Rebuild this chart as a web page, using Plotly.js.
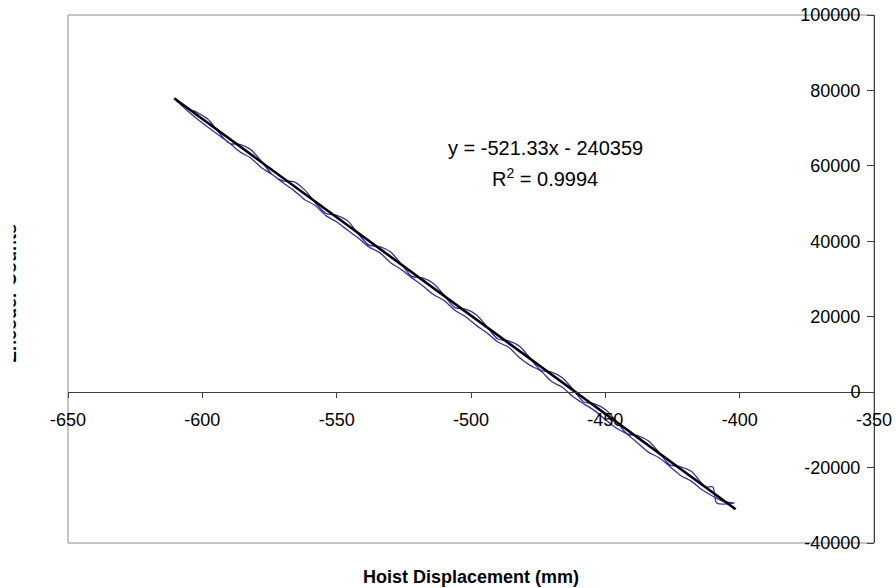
<!DOCTYPE html>
<html>
<head>
<meta charset="utf-8">
<script src="https://cdn.plot.ly/plotly-3.0.1.min.js"></script>
<style>html,body{margin:0;padding:0;background:#fff;}#chart{width:896px;height:588px;}</style>
</head>
<body>
<div id="chart"></div>
<script>
// Measured data: forward pass then return pass (mm, encoder counts)
const dispForward = [-610,-606,-602,-598,-594,-590,-586,-582,-578,-574,-570,-566,-562,-558,-554,-550,-546,-542,-538,-534,-530,-526,-522,-518,-514,-510,-506,-502,-498,-494,-490,-486,-482,-478,-474,-470,-466,-462,-458,-454,-450,-446,-442,-438,-434,-430,-426,-422,-418,-414,-412.5,-410,-408.5,-402];
const countsForward = [77900,75400,74200,72400,69000,66000,65700,64300,61200,57700,56000,55800,53700,50300,47400,46900,45500,42000,39000,38600,37200,34000,30700,30300,28800,25700,22400,22000,20500,17300,14100,13600,12200,9000,5800,5300,3800,700,-2600,-3100,-4600,-7600,-11000,-11500,-12900,-16000,-19300,-19800,-21000,-24300,-25150,-25150,-29400,-29400];
const dispReturn = [-406,-410,-414,-418,-422,-426,-430,-434,-438,-442,-446,-450,-454,-458,-462,-466,-470,-474,-478,-482,-486,-490,-494,-498,-502,-506,-510,-514,-518,-522,-526,-530,-534,-538,-542,-546,-550,-554,-558,-562,-566,-570,-574,-578,-582,-586,-590,-594,-598,-602,-606,-610];
const countsReturn = [-29000,-27600,-25900,-23600,-22100,-19700,-17400,-15900,-13500,-11100,-9500,-7300,-4900,-3100,-1200,1300,2800,5600,7100,9200,11900,13300,15700,17700,20000,21700,24300,25900,28200,30300,32500,34400,37000,38500,40900,43000,45100,46800,49500,51100,53500,55500,57700,59500,62100,63700,66100,68200,70300,72500,74900,77500];
// Linear trendline endpoints (y = -521.33x - 240359)
const trendDisp = [-610.5, -401.5];
const trendCounts = [77913, -31045];
// Tick labels
const xTickVals = [-650,-600,-550,-500,-450,-400,-350];
const xTickText = ['-650','-600','-550','-500','-450','-400','-350'];
const yTickVals = [-40000,-20000,0,20000,40000,60000,80000,100000];
const yTickText = ['-40000','-20000','0','20000','40000','60000','80000','100000'];
const eqText = 'y = -521.33x - 240359';
const r2Text = 'R<sup>2</sup> = 0.9994';
const xTitle = 'Hoist Displacement (mm)';
const yTitle = 'Encoder Counts';

const FONT = 'Liberation Sans, Arial, sans-serif';
const xs = dispForward.concat(dispReturn);
const ys = countsForward.concat(countsReturn);

const traces = [
  {x: xs, y: ys, mode: 'lines', line: {color: '#34349a', width: 1.3, shape: 'spline', smoothing: 0.8}, hoverinfo: 'skip'},
  {x: trendDisp, y: trendCounts, mode: 'lines', line: {color: '#000000', width: 2.6}, hoverinfo: 'skip'}
];

const layout = {
  width: 896, height: 588,
  margin: {l: 68, r: 22, t: 15, b: 45},
  paper_bgcolor: '#ffffff', plot_bgcolor: '#ffffff',
  showlegend: false,
  font: {family: FONT, color: '#000', size: 18},
  xaxis: {
    range: [-650, -350], anchor: 'free', position: 40000/140000,
    tickvals: xTickVals, ticktext: xTickText,
    showline: true, linecolor: '#404040', linewidth: 1,
    ticks: 'outside', ticklen: 5, tickcolor: '#404040',
    ticklabelstandoff: 6,
    showgrid: false, zeroline: false,
    tickfont: {family: FONT, size: 18, color: '#000'}
  },
  yaxis: {
    range: [-40000, 100000], side: 'left', anchor: 'free', position: 1,
    tickvals: yTickVals, ticktext: yTickText,
    showline: true, linecolor: '#404040', linewidth: 1,
    ticks: 'outside', ticklen: 7, tickcolor: '#404040',
    ticklabelstandoff: 3,
    showgrid: false, zeroline: false,
    tickfont: {family: FONT, size: 18, color: '#000'}
  },
  shapes: [
    {type: 'rect', xref: 'paper', yref: 'paper', x0: 0, x1: 1, y0: 0, y1: 1, line: {color: '#8c8c8c', width: 1}, layer: 'below'}
  ],
  annotations: [
    {text: eqText, xref: 'paper', yref: 'paper', x: 0.592, y: 0.748, showarrow: false, xanchor: 'center', yanchor: 'middle', font: {family: FONT, size: 20, color: '#000'}},
    {text: r2Text, xref: 'paper', yref: 'paper', x: 0.592, y: 0.693, showarrow: false, xanchor: 'center', yanchor: 'middle', font: {family: FONT, size: 20, color: '#000'}},
    {text: '<b>' + xTitle + '</b>', xref: 'paper', yref: 'paper', x: 0.5, y: 0, yshift: -34, showarrow: false, xanchor: 'center', yanchor: 'middle', font: {family: FONT, size: 18, color: '#000'}},
    {text: '<b>' + yTitle + '</b>', xref: 'paper', yref: 'paper', x: 0, xshift: -58, y: 0.5, yshift: -15, textangle: -90, showarrow: false, xanchor: 'center', yanchor: 'middle', font: {family: FONT, size: 18, color: '#000'}},
    {text: ' ', xref: 'paper', yref: 'paper', x: 0, xshift: -68, y: 0.5, showarrow: false, xanchor: 'left', yanchor: 'middle', width: 12, height: 260, bgcolor: '#ffffff', borderpad: 0, font: {size: 10}}
  ]
};

Plotly.newPlot('chart', traces, layout, {staticPlot: true, displayModeBar: false});
</script>
</body>
</html>
